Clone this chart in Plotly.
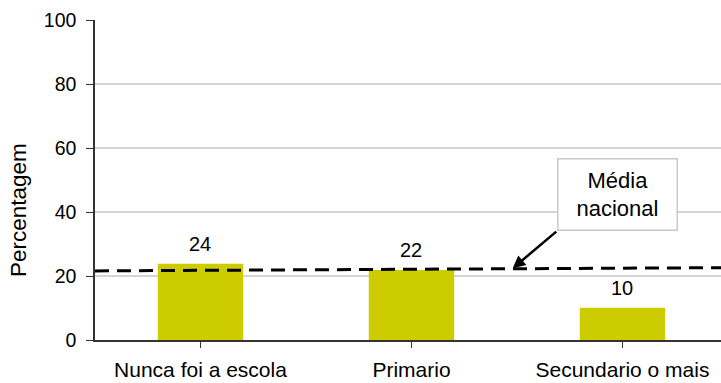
import plotly.graph_objects as go

categories = ["Nunca foi a escola", "Primario", "Secundario o mais"]
values = [23.8, 21.9, 10.1]
value_labels = ["24", "22", "10"]
national_avg_start = 21.6
national_avg_end = 22.6
y_ticks = [0, 20, 40, 60, 80, 100]

FONT = "Liberation Sans, Arial, sans-serif"
BAR_COLOR = "#cccc00"

x_idx = list(range(len(categories)))
x_min, x_max = -0.5, 2.467

fig = go.Figure()
fig.add_trace(go.Bar(
    x=x_idx, y=values, width=0.405,
    marker=dict(color=BAR_COLOR, line=dict(width=0)),
    hoverinfo="skip", showlegend=False,
))
fig.add_trace(go.Scatter(
    x=[x_min, x_max], y=[national_avg_start, national_avg_end],
    mode="lines", line=dict(color="black", width=3, dash="14px,8px"),
    showlegend=False, hoverinfo="skip", cliponaxis=False,
))

annotations = []
for xi, v, t in zip(x_idx, values, value_labels):
    annotations.append(dict(
        x=xi, y=v, text=t, showarrow=False, yanchor="bottom", yshift=7,
        font=dict(family=FONT, size=20, color="black"),
    ))

# National average callout: arrow and label box
annotations.append(dict(
    x=1.48, y=22.4, xref="x", yref="y", text="", showarrow=True,
    arrowhead=2, arrowsize=1, arrowwidth=2.5, arrowcolor="black",
    ax=45, ay=-38,
))
annotations.append(dict(
    x=1.978, y=45.6, xref="x", yref="y",
    text="Média<br>nacional", showarrow=False,
    xanchor="center", yanchor="middle",
    font=dict(family=FONT, size=22, color="black"),
    bgcolor="white", bordercolor="#c8c8c8", borderwidth=1.5,
    borderpad=8, width=102, align="center",
))

# Y-axis title (placed slightly below centre, as in the reference)
annotations.append(dict(
    x=-0.123, y=0.406, xref="paper", yref="paper",
    text="Percentagem", showarrow=False, textangle=-90,
    xanchor="center", yanchor="middle",
    font=dict(family=FONT, size=22.5, color="black"),
))

fig.update_layout(
    width=721, height=383,
    margin=dict(l=95, r=0, t=20, b=43),
    paper_bgcolor="white", plot_bgcolor="white",
    font=dict(family=FONT, size=19, color="black"),
    annotations=annotations,
)
fig.update_xaxes(
    range=[x_min, x_max],
    tickvals=x_idx, ticktext=categories,
    tickson="boundaries", ticks="outside", ticklen=6, tickcolor="#333333",
    showline=True, linecolor="#333333", linewidth=1.5,
    showgrid=False, zeroline=False, ticklabelstandoff=4,
    tickfont=dict(family=FONT, size=21, color="black"),
)
fig.update_yaxes(
    range=[0, 100], tickvals=y_ticks,
    ticks="outside", ticklen=7, tickcolor="#333333",
    showline=True, linecolor="#333333", linewidth=1.5,
    showgrid=True, gridcolor="#d4d4d4", gridwidth=1.5,
    zeroline=False, ticklabelstandoff=6,
    tickfont=dict(family=FONT, size=19.5, color="black"),
)

fig.write_html("out.html")
